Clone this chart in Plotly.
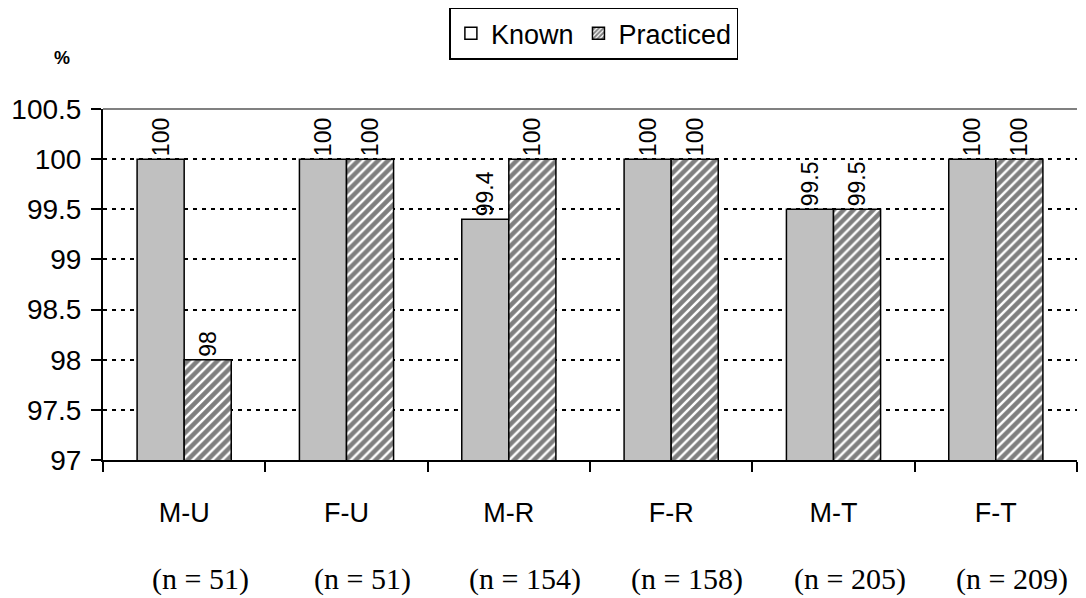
import plotly.graph_objects as go

# Survey results by group
groups = ["M-U", "F-U", "M-R", "F-R", "M-T", "F-T"]
sample_sizes = [51, 51, 154, 158, 205, 209]
known = [100, 100, 99.4, 100, 99.5, 100]
practiced = [98, 100, 100, 100, 99.5, 100]

y_min, y_max, y_step = 97, 100.5, 0.5

SANS = "Arial, Liberation Sans, sans-serif"
SERIF = "Times New Roman, Liberation Serif, serif"

HATCH = dict(shape="/", fgcolor="black", bgcolor="white", size=7, solidity=0.65)

fig = go.Figure()

fig.add_trace(go.Bar(
    name="Known", x=groups, y=known, offsetgroup="known",
    marker=dict(color="#C0C0C0", line=dict(color="black", width=1.5)),
    text=[f"{v:g}" for v in known], textposition="outside", textangle=-90,
    constraintext="none",
    textfont=dict(family=SANS, size=23, color="black"),
    cliponaxis=False, showlegend=False,
))
fig.add_trace(go.Bar(
    name="Practiced", x=groups, y=practiced, offsetgroup="practiced",
    marker=dict(color="white", line=dict(color="black", width=1.5), pattern=HATCH),
    text=[f"{v:g}" for v in practiced], textposition="outside", textangle=-90,
    constraintext="none",
    textfont=dict(family=SANS, size=23, color="black"),
    cliponaxis=False, showlegend=False,
))

# Legend entries (open square for Known, hatched square for Practiced)
fig.add_trace(go.Bar(
    name="Known", x=[None], y=[None], offsetgroup="known",
    marker=dict(color="white", line=dict(color="black", width=1.5)),
))
fig.add_trace(go.Bar(
    name="Practiced", x=[None], y=[None], offsetgroup="practiced",
    marker=dict(color="white", line=dict(color="black", width=1.5),
                pattern=dict(shape="/", fgcolor="black", bgcolor="white",
                             size=4, solidity=0.6)),
))

fig.update_layout(
    width=1086, height=598,
    margin=dict(l=103, r=9, t=108, b=138),
    paper_bgcolor="white", plot_bgcolor="white",
    barmode="group", bargap=0.42, bargroupgap=0,
    font=dict(family=SANS, color="black"),
    showlegend=True,
    legend=dict(
        orientation="h", x=0.504, xanchor="center", y=1.285, yanchor="top",
        bordercolor="black", borderwidth=1.5, bgcolor="white",
        font=dict(family=SANS, size=27, color="black"),
        itemwidth=30, tracegroupgap=0,
    ),
    xaxis=dict(
        type="category", showgrid=False,
        showline=True, linecolor="black", linewidth=2,
        ticks="outside", tickson="boundaries", ticklen=10, tickwidth=2, tickcolor="black",
        tickfont=dict(family=SANS, size=27, color="black"),
        ticklabelstandoff=28,
    ),
    yaxis=dict(
        range=[y_min, y_max], dtick=y_step, tick0=y_min,
        showline=True, linecolor="black", linewidth=2,
        ticks="outside", ticklen=10, tickwidth=2, tickcolor="black",
        tickfont=dict(family=SANS, size=28, color="black"),
        showgrid=True, gridcolor="black", gridwidth=2, griddash="4px,5px",
        zeroline=False, ticklabelstandoff=4,
    ),
)

# Solid grey rule along the top of the plot area
fig.add_shape(type="line", xref="paper", yref="paper", x0=0, x1=1, y0=1, y1=1,
              line=dict(color="#808080", width=2))

# Unit label
fig.add_annotation(text="<b>%</b>", xref="paper", yref="paper",
                   x=-0.042, y=1.145, xanchor="center", yanchor="middle",
                   showarrow=False, font=dict(family=SANS, size=18, color="black"))

# Sample sizes under each group
for g, n in zip(groups, sample_sizes):
    fig.add_annotation(text=f"(n = {n})", x=g, xref="x", yref="paper",
                       y=-0.34, yanchor="middle", xshift=16, showarrow=False,
                       font=dict(family=SERIF, size=30, color="black"))

fig.write_html("out.html")
